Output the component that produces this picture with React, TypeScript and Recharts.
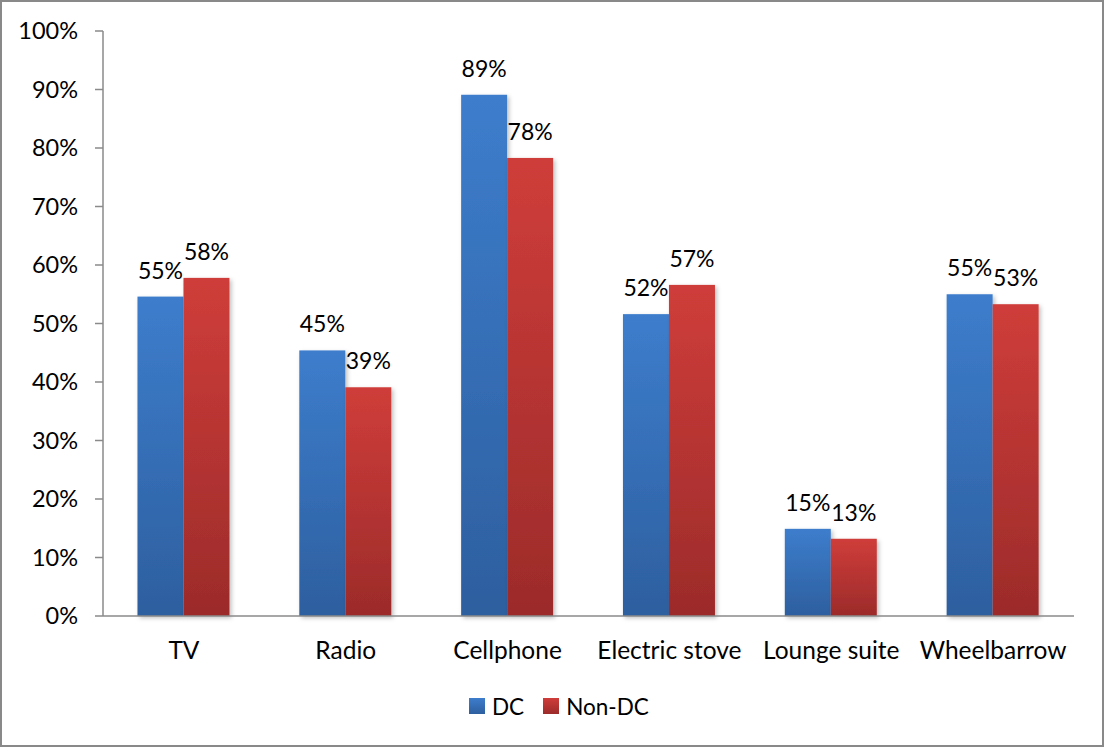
import React from 'react';
import { BarChart, Bar, XAxis, YAxis, Legend, LabelList } from 'recharts';

const categories = ['TV', 'Radio', 'Cellphone', 'Electric stove', 'Lounge suite', 'Wheelbarrow'];
const dcValues = [54.6, 45.4, 89.1, 51.6, 14.9, 55.0];
const nonDcValues = [57.8, 39.1, 78.3, 56.6, 13.2, 53.3];
const yTicks = [0, 10, 20, 30, 40, 50, 60, 70, 80, 90, 100];
// category boundaries, used only for the tick marks under the x axis
const edgeTicks = [0, 1, 2, 3, 4, 5, 6];

const data = categories.map((name, i) => ({ name, dc: dcValues[i], nonDc: nonDcValues[i] }));

const FONT = 'Lato, "Liberation Sans", sans-serif';
const AXIS_GRAY = '#8a8a8a';

const series = [
  { key: 'dc', name: 'DC', fillId: 'dcFill', top: '#3d7dcc', bottom: '#2d5f9f' },
  { key: 'nonDc', name: 'Non-DC', fillId: 'nonDcFill', top: '#cf3d3a', bottom: '#9c2b2a' },
];

const makeBarShape = (fillId: string) => (props: any) => {
  const { x, y, width, height } = props;
  if (!height || height <= 0) return null;
  return (
    <rect
      x={x}
      y={y}
      width={width}
      height={height}
      fill={`url(#${fillId})`}
      filter="url(#barShadow)"
    />
  );
};

const ValueLabel = (props: any) => {
  const { x, y, width, value } = props;
  return (
    <text
      x={x + width / 2}
      y={y - 18}
      textAnchor="middle"
      fontSize={23}
      fontFamily={FONT}
      fill="#000"
    >
      {Math.round(value)}%
    </text>
  );
};

const renderLegend = () => (
  <div style={{ display: 'flex', alignItems: 'center', height: 28, fontFamily: FONT, fontSize: 22.5, color: '#000' }}>
    {series.map((s, i) => (
      <div key={s.key} style={{ display: 'flex', alignItems: 'center', marginLeft: i === 0 ? 0 : 19 }}>
        <span
          style={{
            display: 'inline-block',
            width: 16,
            height: 16,
            marginRight: 7,
            background: `linear-gradient(${s.top}, ${s.bottom})`,
          }}
        />
        <span>{s.name}</span>
      </div>
    ))}
  </div>
);

export default function App() {
  return (
    <div style={{ position: 'relative', width: 1104, height: 747, background: '#fff' }}>
      <style>{'body { margin: 0; }'}</style>
      <BarChart
        width={1104}
        height={747}
        data={data}
        margin={{ top: 31, right: 30, left: 0, bottom: 71 }}
        barCategoryGap="21.3%"
        barGap={0}
      >
        <defs>
          {series.map(s => (
            <linearGradient key={s.fillId} id={s.fillId} x1="0" y1="0" x2="0" y2="1">
              <stop offset="0%" stopColor={s.top} />
              <stop offset="100%" stopColor={s.bottom} />
            </linearGradient>
          ))}
          <filter id="barShadow" x="-20%" y="-5%" width="150%" height="115%">
            <feDropShadow dx="2" dy="2" stdDeviation="2" floodColor="#000" floodOpacity="0.25" />
          </filter>
        </defs>

        {/* boundary tick marks, drawn by a numeric axis over the same width */}
        <XAxis
          xAxisId="edges"
          type="number"
          domain={[0, 6]}
          ticks={edgeTicks}
          interval={0}
          height={0}
          axisLine={false}
          tick={false}
          tickSize={9}
          tickLine={{ stroke: AXIS_GRAY, strokeWidth: 1.5 }}
        />
        <XAxis
          xAxisId="cat"
          dataKey="name"
          height={60}
          interval={0}
          tickLine={false}
          tickSize={9}
          tickMargin={17}
          axisLine={{ stroke: AXIS_GRAY, strokeWidth: 1.5 }}
          tick={{ fontSize: 24.5, fontFamily: FONT, fill: '#000' }}
        />
        <YAxis
          width={103}
          domain={[0, 100]}
          ticks={yTicks}
          interval={0}
          tickFormatter={(v: number) => `${v}%`}
          tickSize={8}
          tickMargin={17}
          axisLine={{ stroke: AXIS_GRAY, strokeWidth: 1.5 }}
          tickLine={{ stroke: AXIS_GRAY, strokeWidth: 1.5 }}
          tick={{ fontSize: 23.5, fontFamily: FONT, fill: '#000' }}
        />
        <Legend
          verticalAlign="middle"
          align="center"
          content={renderLegend}
          wrapperStyle={{ top: 692, left: 469, width: 'auto' }}
        />
        {series.map(s => (
          <Bar
            key={s.key}
            xAxisId="cat"
            dataKey={s.key}
            name={s.name}
            fill={s.top}
            shape={makeBarShape(s.fillId)}
            isAnimationActive={false}
          >
            <LabelList dataKey={s.key} content={ValueLabel} />
          </Bar>
        ))}
      </BarChart>
      <div
        style={{
          position: 'absolute',
          inset: 0,
          border: '2px solid #898989',
          boxSizing: 'border-box',
          pointerEvents: 'none',
        }}
      />
    </div>
  );
}
